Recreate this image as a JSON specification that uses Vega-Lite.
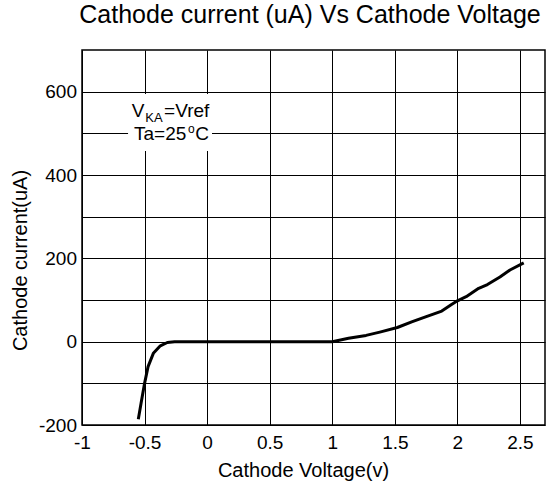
{
  "$schema": "https://vega.github.io/schema/vega-lite/v6.json",
  "width": 463,
  "height": 375,
  "autosize": {"type": "none"},
  "padding": {"left": 82, "top": 50, "right": 2, "bottom": 59},
  "background": "white",
  "title": {
    "text": "Cathode current (uA) Vs Cathode Voltage",
    "fontSize": 25,
    "fontWeight": "normal",
    "font": "Liberation Sans",
    "color": "#000",
    "anchor": "middle",
    "frame": "group",
    "baseline": "alphabetic",
    "offset": 2,
    "dx": -3.5
  },
  "config": {
    "font": "Liberation Sans",
    "view": {"stroke": "#000", "strokeWidth": 1.5},
    "axis": {
      "grid": true,
      "gridColor": "#000",
      "gridWidth": 1,
      "gridOpacity": 1,
      "domain": false,
      "ticks": false,
      "tickSize": 0,
      "labelColor": "#000",
      "titleColor": "#000",
      "labelFont": "Liberation Sans",
      "titleFont": "Liberation Sans",
      "titleFontWeight": "normal"
    }
  },
  "layer": [
    {
      "data": {
        "values": [
          {"v": -0.55, "i": -186},
          {"v": -0.528, "i": -148},
          {"v": -0.5, "i": -100},
          {"v": -0.472, "i": -60},
          {"v": -0.43, "i": -28},
          {"v": -0.374, "i": -10},
          {"v": -0.318, "i": -2},
          {"v": -0.26, "i": 0},
          {"v": 0, "i": 0},
          {"v": 0.5, "i": 0},
          {"v": 1.0, "i": 0},
          {"v": 1.13, "i": 8},
          {"v": 1.27, "i": 15},
          {"v": 1.38, "i": 23},
          {"v": 1.52, "i": 34},
          {"v": 1.64, "i": 48},
          {"v": 1.74, "i": 59},
          {"v": 1.875, "i": 73.5},
          {"v": 1.947, "i": 88},
          {"v": 2.0, "i": 98},
          {"v": 2.07, "i": 108},
          {"v": 2.17, "i": 128},
          {"v": 2.24, "i": 137},
          {"v": 2.34, "i": 155},
          {"v": 2.42, "i": 172},
          {"v": 2.53, "i": 189}
        ]
      },
      "mark": {"type": "line", "color": "#000", "strokeWidth": 3, "strokeJoin": "round", "clip": true},
      "encoding": {
        "x": {
          "field": "v",
          "type": "quantitative",
          "scale": {"domain": [-1, 2.7], "nice": false, "zero": false},
          "axis": {
            "title": "Cathode Voltage(v)",
            "values": [-1, -0.5, 0, 0.5, 1, 1.5, 2, 2.5],
            "labelExpr": "replace(toString(datum.value), '\u2212', '-')",
            "labelFontSize": 19,
            "labelBaseline": "alphabetic",
            "labelPadding": 23,
            "labelFlush": false,
            "labelOverlap": false,
            "titleFontSize": 20,
            "titleX": 221,
            "titleY": 51.7,
            "titleBaseline": "alphabetic",
            "titleAlign": "center"
          }
        },
        "y": {
          "field": "i",
          "type": "quantitative",
          "scale": {"domain": [-200, 700], "nice": false, "zero": false},
          "axis": {
            "title": "Cathode current(uA)",
            "values": [-200, -100, 0, 100, 200, 300, 400, 500, 600],
            "labelExpr": "datum.value % 200 === 0 ? toString(datum.value) : ''",
            "labelFontSize": 19,
            "labelBaseline": "middle",
            "labelPadding": 5.5,
            "labelFlush": false,
            "labelOverlap": false,
            "titleFontSize": 20,
            "titleAngle": 270,
            "titleX": -56,
            "titleY": 210,
            "titleBaseline": "alphabetic",
            "titleAlign": "center"
          }
        }
      }
    },
    {
      "data": {"values": [{}]},
      "mark": {"type": "rect", "fill": "white", "stroke": null},
      "encoding": {
        "x": {"datum": -0.632, "type": "quantitative"},
        "x2": {"datum": 0.039},
        "y": {"datum": 594.5, "type": "quantitative"},
        "y2": {"datum": 457.7}
      }
    },
    {
      "data": {"values": [{}]},
      "mark": {"type": "text", "text": "V", "fontSize": 19, "align": "left", "baseline": "alphabetic", "color": "#000"},
      "encoding": {"x": {"datum": -0.603, "type": "quantitative"}, "y": {"datum": 540, "type": "quantitative"}}
    },
    {
      "data": {"values": [{}]},
      "mark": {"type": "text", "text": "KA", "fontSize": 13, "align": "left", "baseline": "alphabetic", "color": "#000"},
      "encoding": {"x": {"datum": -0.494, "type": "quantitative"}, "y": {"datum": 528, "type": "quantitative"}}
    },
    {
      "data": {"values": [{}]},
      "mark": {"type": "text", "text": "=Vref", "fontSize": 19, "align": "left", "baseline": "alphabetic", "color": "#000"},
      "encoding": {"x": {"datum": -0.344, "type": "quantitative"}, "y": {"datum": 540, "type": "quantitative"}}
    },
    {
      "data": {"values": [{}]},
      "mark": {"type": "text", "text": "Ta=25", "fontSize": 19, "align": "left", "baseline": "alphabetic", "color": "#000"},
      "encoding": {"x": {"datum": -0.584, "type": "quantitative"}, "y": {"datum": 484, "type": "quantitative"}}
    },
    {
      "data": {"values": [{}]},
      "mark": {"type": "text", "text": "o", "fontSize": 12, "align": "left", "baseline": "alphabetic", "color": "#000"},
      "encoding": {"x": {"datum": -0.152, "type": "quantitative"}, "y": {"datum": 500, "type": "quantitative"}}
    },
    {
      "data": {"values": [{}]},
      "mark": {"type": "text", "text": "C", "fontSize": 19, "align": "left", "baseline": "alphabetic", "color": "#000"},
      "encoding": {"x": {"datum": -0.094, "type": "quantitative"}, "y": {"datum": 484, "type": "quantitative"}}
    }
  ]
}
